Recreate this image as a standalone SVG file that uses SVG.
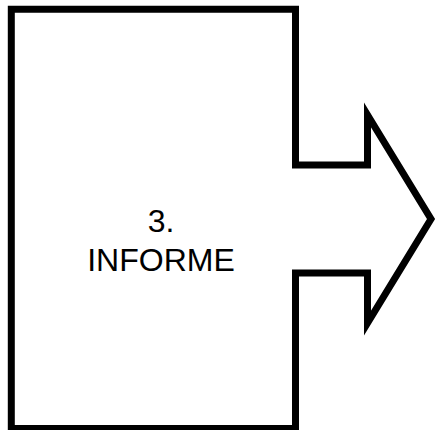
<svg xmlns="http://www.w3.org/2000/svg" width="437" height="430" viewBox="0 0 437 430">
<style>
.shape{fill:#fff;stroke:#000;stroke-width:7;stroke-linejoin:miter;stroke-miterlimit:12}
.lbl{font-family:"Liberation Sans",Arial,sans-serif;font-size:32px;fill:#000;text-anchor:middle}
</style>
<rect width="437" height="430" fill="#fff"/>
<g id="informe">
<path class="shape" d="M11.3,9.3 H295.5 V165 H367.5 V115 L431,219 L367.5,323 V273 H295.5 V428.5 H11.3 Z"/>
<text class="lbl" x="161" y="232">3.</text>
<text class="lbl" x="161" y="271">INFORME</text>
</g>
<g id="connectors"></g>
</svg>
